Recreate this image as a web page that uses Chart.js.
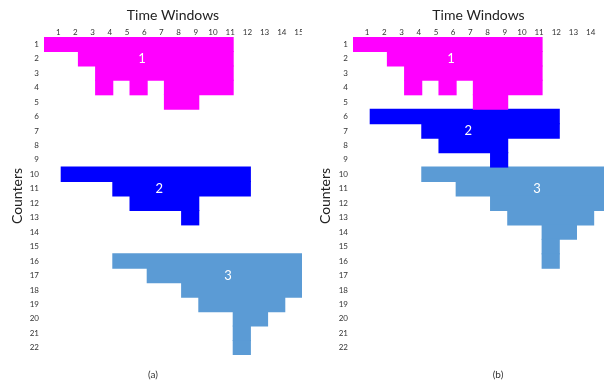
<!DOCTYPE html>
<html>
<head>
<meta charset="utf-8">
<script src="https://cdn.jsdelivr.net/npm/chart.js@4"></script>
<style>
    body { margin: 0; background: #fff; }
    .panel { position: absolute; top: 0; width: 302px; height: 383px; }
    .caption { position: absolute; top: 368px; font: 10px Lato, sans-serif; color: #333; transform: translateX(-50%); }
</style>
</head>
<body>
<div class="panel" style="left:0"><canvas id="chartA" width="302" height="383"></canvas></div>
<div class="panel" style="left:302px"><canvas id="chartB" width="302" height="383"></canvas></div>
<div class="caption" style="left:153px">(a)</div>
<div class="caption" style="left:498px">(b)</div>
<script>
// Counters (rows) and time windows (columns)
const counterLabels = ['1', '2', '3', '4', '5', '6', '7', '8', '9', '10', '11',
    '12', '13', '14', '15', '16', '17', '18', '19', '20', '21', '22'];
const windowTicksA = [1, 2, 3, 4, 5, 6, 7, 8, 9, 10, 11, 12, 13, 14, 15];
const windowTicksB = [1, 2, 3, 4, 5, 6, 7, 8, 9, 10, 11, 12, 13, 14];

// Each entry: [counter row, first window, last window]
const shape1 = [[1, 1, 11], [2, 3, 11], [3, 4, 11], [4, 4, 4], [4, 6, 6], [4, 8, 11], [5, 8, 9]];
const shape2A = [[10, 2, 12], [11, 5, 12], [12, 6, 9], [13, 9, 9]];
const shape3A = [[16, 5, 15], [17, 7, 15], [18, 9, 15], [19, 10, 14], [20, 12, 13], [21, 12, 12], [22, 12, 12]];
const shape2B = [[6, 2, 12], [7, 5, 12], [8, 6, 9], [9, 9, 9]];
const shape3B = [[10, 5, 15], [11, 7, 15], [12, 9, 15], [13, 10, 14], [14, 12, 13], [15, 12, 12], [16, 12, 12]];

const shapeNames = ['1', '2', '3'];
const shapeColors = ['#ff00ff', '#0000ff', '#5b9bd5'];
const labelColumns = [5.7, 6.7, 10.7];
const labelRowsA = [2, 11, 17];
const labelRowsB = [2, 7, 11];

const FONT = 'Lato, "Open Sans", sans-serif';

function toBars(rows) {
    return rows.map(([row, from, to]) => ({ y: String(row), x: [from - 1, to] }));
}

const shapeLabelPlugin = {
    id: 'shapeLabels',
    afterDatasetsDraw(chart, args, opts) {
        const { ctx, scales: { x, y } } = chart;
        ctx.save();
        ctx.fillStyle = '#ffffff';
        ctx.font = '13px ' + FONT;
        ctx.textAlign = 'center';
        ctx.textBaseline = 'middle';
        opts.rows.forEach((row, i) => {
            ctx.fillText(shapeNames[i], x.getPixelForValue(labelColumns[i]), y.getPixelForValue(row - 1));
        });
        ctx.restore();
    }
};

function createPanel(canvasId, shapes, ticks, xMax, labelRows, axisWidth, titlePad) {
    const datasets = shapes.map((rows, i) => ({
        data: toBars(rows),
        backgroundColor: shapeColors[i],
        borderWidth: 0,
        grouped: false,
        barPercentage: 1,
        categoryPercentage: 1,
        inflateAmount: 0.5
    }));

    return new Chart(document.getElementById(canvasId), {
        type: 'bar',
        data: { datasets },
        options: {
            indexAxis: 'y',
            responsive: false,
            animation: false,
            layout: { padding: { top: 0, right: 0, bottom: 28, left: 0 } },
            plugins: {
                legend: { display: false },
                tooltip: { enabled: false },
                shapeLabels: { rows: labelRows }
            },
            scales: {
                x: {
                    type: 'linear',
                    position: 'top',
                    min: 0,
                    max: xMax,
                    afterBuildTicks: axis => { axis.ticks = ticks.map(v => ({ value: v })); },
                    afterFit: axis => {
                        axis.height = 37;
                        axis.paddingLeft = 0;
                        axis.paddingRight = 0;
                    },
                    grid: { display: false, drawTicks: false },
                    border: { display: false },
                    ticks: {
                        autoSkip: false,
                        maxRotation: 0,
                        labelOffset: -3,
                        padding: 0,
                        color: '#333',
                        font: { size: 8, family: FONT }
                    },
                    title: {
                        display: true,
                        text: 'Time Windows',
                        color: '#222',
                        font: { size: 14, family: FONT },
                        padding: { top: 7, bottom: 0 }
                    }
                },
                y: {
                    type: 'category',
                    labels: counterLabels,
                    offset: true,
                    afterFit: axis => {
                        axis.width = axisWidth;
                        axis.paddingTop = 0;
                        axis.paddingBottom = 0;
                    },
                    grid: { display: false, drawTicks: false },
                    border: { display: false },
                    ticks: {
                        autoSkip: false,
                        padding: 5,
                        color: '#333',
                        font: { size: 8, family: FONT }
                    },
                    title: {
                        display: true,
                        text: 'Counters',
                        color: '#222',
                        font: { size: 14, family: FONT },
                        padding: { top: titlePad, bottom: 0 }
                    }
                }
            }
        },
        plugins: [shapeLabelPlugin]
    });
}

createPanel('chartA', [shape1, shape2A, shape3A], windowTicksA, 15, labelRowsA, 44, 9);
createPanel('chartB', [shape1, shape2B, shape3B], windowTicksB, 14.6, labelRowsB, 51, 15);
</script>
</body>
</html>
